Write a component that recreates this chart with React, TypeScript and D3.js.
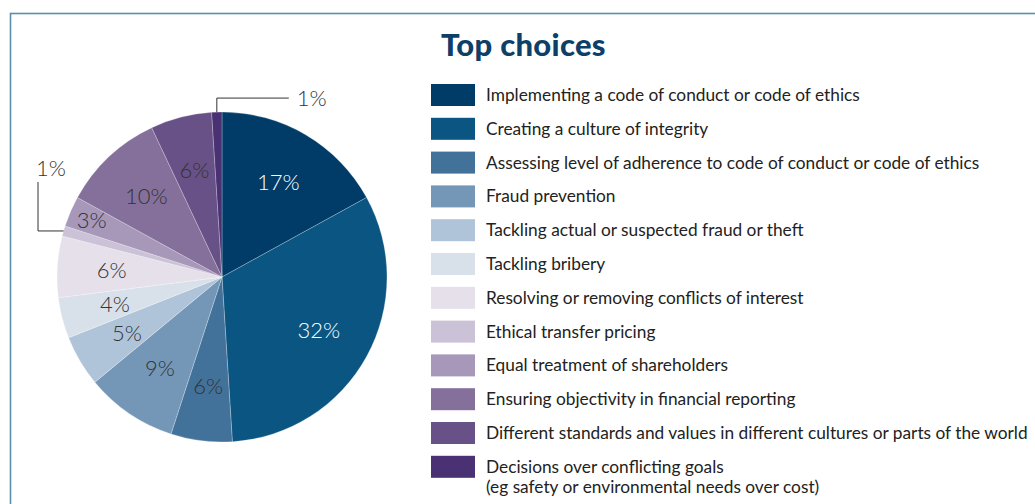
import React from 'react';
import * as d3 from 'd3';

const title = 'Top choices';
const categories = [
  'Implementing a code of conduct or code of ethics',
  'Creating a culture of integrity',
  'Assessing level of adherence to code of conduct or code of ethics',
  'Fraud prevention',
  'Tackling actual or suspected fraud or theft',
  'Tackling bribery',
  'Resolving or removing conflicts of interest',
  'Ethical transfer pricing',
  'Equal treatment of shareholders',
  'Ensuring objectivity in financial reporting',
  'Different standards and values in different cultures or parts of the world',
  'Decisions over conflicting goals\n(eg safety or environmental needs over cost)',
];
const values = [17, 32, 6, 9, 5, 4, 6, 1, 3, 10, 6, 1];
const colors = [
  '#013c69', '#0a5581', '#42729a', '#7497b8', '#b0c4d9', '#d8e0ea',
  '#e6e0ea', '#cbc2d7', '#a797b9', '#85709c', '#685187', '#4a3174',
];

const W = 1035;
const H = 504;
const cx = 222;
const cy = 277;
const R = 165;
const FONT = 'Lato, "Open Sans", sans-serif';

export default function App() {
  const pie = d3.pie<number>().sort(null).value((d) => d).startAngle(0).endAngle(2 * Math.PI);
  const arcs = pie(values);
  const arc = d3.arc<d3.PieArcDatum<number>>().innerRadius(0).outerRadius(R);

  const legendX = 431;
  const legendY0 = 84;
  const pitch = 33.8;

  return (
    <svg width={W} height={H} style={{ position: 'absolute', left: 0, top: 0 }} fontFamily={FONT}>
      <rect x={10.5} y={13.5} width={1200} height={700} fill="none" stroke="#5b90a8" strokeWidth={1.6} />
      <g transform={`translate(${cx},${cy})`}>
        {arcs.map((a, i) => (
          <path key={i} d={arc(a) || ''} fill={colors[i]} stroke="#ffffff" strokeOpacity={0.35} strokeWidth={0.7} />
        ))}
        {arcs.map((a, i) => {
          const v = values[i];
          const mid = (a.startAngle + a.endAngle) / 2;
          if (v <= 1) {
            const px = R * Math.sin(mid);
            const py = -R * Math.cos(mid);
            if (Math.abs(px) < 40) {
              const topY = py - 14;
              const endX = px + 72;
              return (
                <g key={'l' + i}>
                  <polyline points={`${px},${py} ${px},${topY} ${endX},${topY}`} fill="none" stroke="#333" strokeWidth={1} />
                  <text x={endX + 8} y={topY + 8} fontSize={22} fontWeight={300} fill="#333">{v}%</text>
                </g>
              );
            }
            const endX = -R - 19;
            const topY = py - 49;
            return (
              <g key={'l' + i}>
                <polyline points={`${px},${py} ${endX},${py} ${endX},${topY}`} fill="none" stroke="#333" strokeWidth={1} />
                <text x={endX - 2} y={topY - 6} fontSize={22} fontWeight={300} fill="#333">{v}%</text>
              </g>
            );
          }
          const lr = v < 4 ? 0.86 * R : 0.67 * R;
          const x = lr * Math.sin(mid);
          const y = -lr * Math.cos(mid);
          return (
            <text key={'t' + i} x={x} y={y} dy="0.35em" textAnchor="middle" fontSize={22} fontWeight={300}
              fill={i < 2 ? '#ffffff' : '#333333'}>{v}%</text>
          );
        })}
      </g>
      <text x={441} y={56} fontSize={31} fontWeight={900} fill="#0d3f68" letterSpacing={0.3}>{title}</text>
      {categories.map((c, i) => {
        const y = legendY0 + i * pitch;
        const lines = c.split('\n');
        return (
          <g key={'g' + i}>
            <rect x={legendX} y={y} width={44} height={22} fill={colors[i]} />
            {lines.map((ln, j) => (
              <text key={j} x={486} y={y + 11 + j * 20} dy="0.35em" fontSize={17.3} fill="#222">{ln}</text>
            ))}
          </g>
        );
      })}
    </svg>
  );
}
